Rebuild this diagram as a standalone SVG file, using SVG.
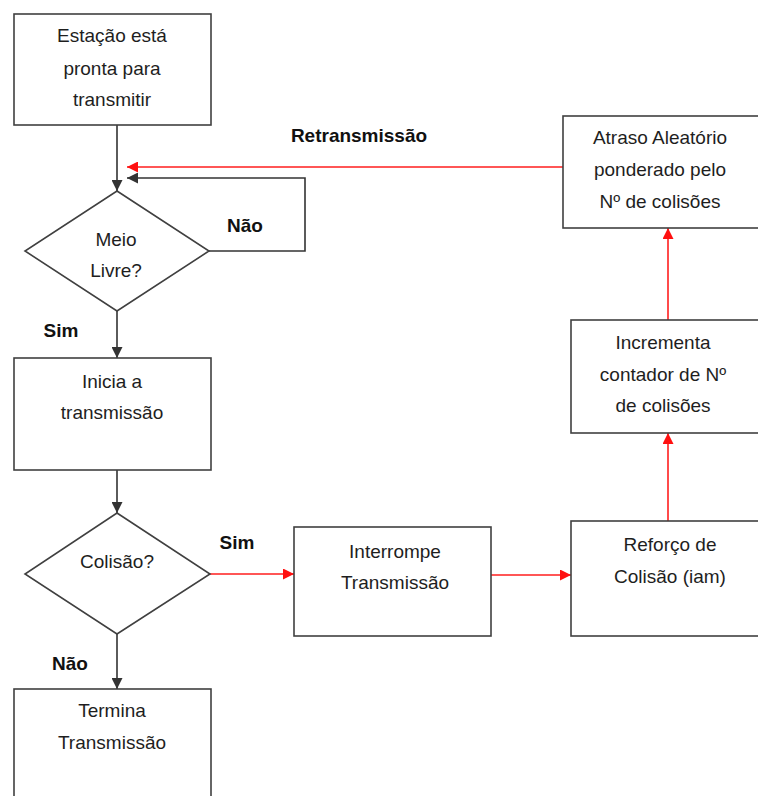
<svg xmlns="http://www.w3.org/2000/svg" width="758" height="796" viewBox="0 0 758 796">
  <style>
    .box { fill: #ffffff; stroke: #404040; stroke-width: 1.6; }
    .txt { font-family: "Liberation Sans", Arial, sans-serif; font-size: 19px; fill: #1e1e1e; text-anchor: middle; }
    .lbl { font-family: "Liberation Sans", Arial, sans-serif; font-size: 19px; font-weight: bold; fill: #111111; text-anchor: middle; }
    .blk { fill: none; stroke: #333333; stroke-width: 1.6; }
    .red { fill: none; stroke: #ff1e1e; stroke-width: 1.6; }
  </style>
  <defs>
    <marker id="arrowBlack" viewBox="0 0 10 10" refX="10" refY="5" markerWidth="11" markerHeight="11" markerUnits="userSpaceOnUse" orient="auto">
      <path d="M0,0 L10,5 L0,10 Z" fill="#333333"/>
    </marker>
    <marker id="arrowRed" viewBox="0 0 10 10" refX="10" refY="5" markerWidth="11" markerHeight="11" markerUnits="userSpaceOnUse" orient="auto">
      <path d="M0,0 L10,5 L0,10 Z" fill="#ff1010"/>
    </marker>
  </defs>

  <rect width="758" height="796" fill="#ffffff"/>

  <!-- connectors -->
  <g id="connectors">
    <line class="blk" x1="117" y1="125" x2="117" y2="191" marker-end="url(#arrowBlack)"/>
    <polyline class="blk" points="209,251 305,251 305,178 127,178" marker-end="url(#arrowBlack)"/>
    <line class="red" x1="563" y1="167" x2="127" y2="167" marker-end="url(#arrowRed)"/>
    <line class="blk" x1="117" y1="311" x2="117" y2="358" marker-end="url(#arrowBlack)"/>
    <line class="blk" x1="117" y1="470" x2="117" y2="513" marker-end="url(#arrowBlack)"/>
    <line class="blk" x1="117" y1="634" x2="117" y2="689" marker-end="url(#arrowBlack)"/>
    <line class="red" x1="210" y1="574" x2="294" y2="574" marker-end="url(#arrowRed)"/>
    <line class="red" x1="491" y1="575" x2="571" y2="575" marker-end="url(#arrowRed)"/>
    <line class="red" x1="668" y1="521" x2="668" y2="433" marker-end="url(#arrowRed)"/>
    <line class="red" x1="668" y1="320" x2="668" y2="228" marker-end="url(#arrowRed)"/>
  </g>

  <!-- connector labels -->
  <g id="labels">
    <text class="lbl" x="359" y="142">Retransmissão</text>
    <text class="lbl" x="245" y="232">Não</text>
    <text class="lbl" x="61" y="337">Sim</text>
    <text class="lbl" x="237" y="549">Sim</text>
    <text class="lbl" x="70" y="670">Não</text>
  </g>

  <g id="pronta">
    <rect class="box" x="14" y="14" width="197" height="111"/>
    <text class="txt" x="112" y="42">Estação está</text>
    <text class="txt" x="112" y="75">pronta para</text>
    <text class="txt" x="112" y="106">transmitir</text>
  </g>

  <g id="meioLivre">
    <polygon class="box" points="117,191 209,251 117,311 25,251"/>
    <text class="txt" x="116" y="246">Meio</text>
    <text class="txt" x="116" y="277">Livre?</text>
  </g>

  <g id="inicia">
    <rect class="box" x="14" y="358" width="197" height="112"/>
    <text class="txt" x="112" y="388">Inicia a</text>
    <text class="txt" x="112" y="419">transmissão</text>
  </g>

  <g id="colisao">
    <polygon class="box" points="117,513 210,574 117,634 25,574"/>
    <text class="txt" x="117" y="568">Colisão?</text>
  </g>

  <g id="termina">
    <rect class="box" x="14" y="689" width="197" height="120"/>
    <text class="txt" x="112" y="717">Termina</text>
    <text class="txt" x="112" y="749">Transmissão</text>
  </g>

  <g id="interrompe">
    <rect class="box" x="294" y="527" width="197" height="109"/>
    <text class="txt" x="395" y="558">Interrompe</text>
    <text class="txt" x="395" y="589">Transmissão</text>
  </g>

  <g id="reforco">
    <rect class="box" x="571" y="521" width="200" height="115"/>
    <text class="txt" x="670" y="551">Reforço de</text>
    <text class="txt" x="670" y="583">Colisão (iam)</text>
  </g>

  <g id="incrementa">
    <rect class="box" x="571" y="320" width="200" height="113"/>
    <text class="txt" x="663" y="349">Incrementa</text>
    <text class="txt" x="663" y="381">contador de Nº</text>
    <text class="txt" x="663" y="412">de colisões</text>
  </g>

  <g id="atraso">
    <rect class="box" x="563" y="116" width="210" height="112"/>
    <text class="txt" x="660" y="144">Atraso Aleatório</text>
    <text class="txt" x="660" y="176">ponderado pelo</text>
    <text class="txt" x="660" y="208">Nº de colisões</text>
  </g>
</svg>
